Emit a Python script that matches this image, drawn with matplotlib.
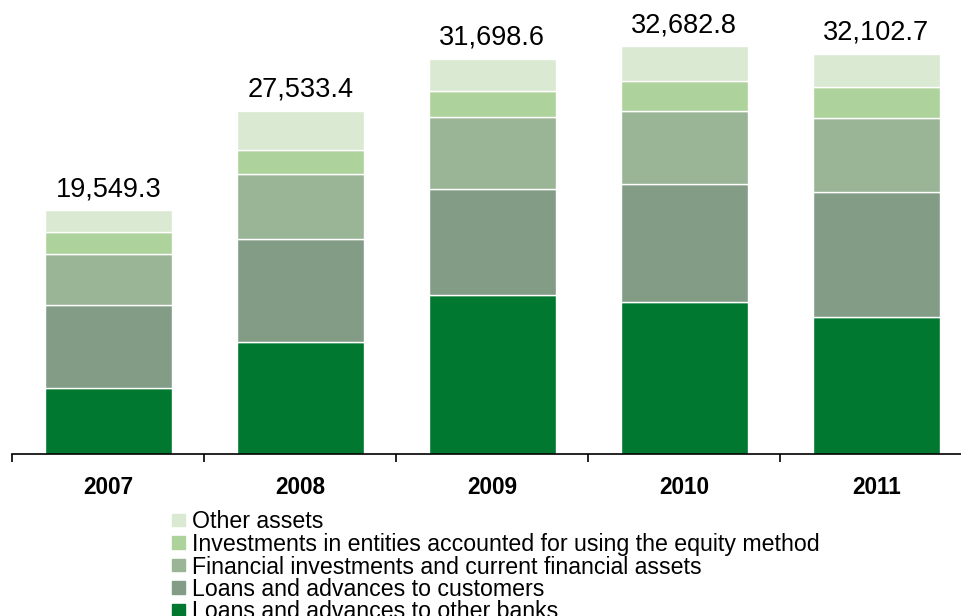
import numpy as np
import matplotlib.pyplot as plt
from matplotlib.patches import Rectangle

plt.rcParams['font.family'] = ['Liberation Sans', 'DejaVu Sans']

years = ['2007', '2008', '2009', '2010', '2011']

# asset components (EUR m), stacked bottom to top
banks = [5269.0, 8958.0, 12752.0, 12166.0, 10963.0]
customers = [6681.0, 8285.0, 8501.0, 9464.0, 10049.0]
financial = [4090.0, 5213.0, 5750.0, 5879.0, 5911.0]
equity = [1788.0, 1925.0, 2109.0, 2406.0, 2486.0]
other = [1721.3, 3152.4, 2586.6, 2767.8, 2693.7]

series = [banks, customers, financial, equity, other]
names = ['Loans and advances to other banks',
         'Loans and advances to customers',
         'Financial investments and current financial assets',
         'Investments in entities accounted for using the equity method',
         'Other assets']
colors = ['#00782f', '#829c86', '#9ab496', '#aed29b', '#dae9d1']

W, H = 962, 616
fig = plt.figure(figsize=(W / 100, H / 100), dpi=100)
ax = fig.add_axes([12.3 / W, (H - 454) / H, 960 / W, 454 / H])

x = np.arange(len(years))
bottom = np.zeros(len(years))
for vals, c in zip(series, colors):
    ax.bar(x, vals, width=0.66, bottom=bottom, color=c,
           edgecolor='white', linewidth=1.0)
    bottom += np.array(vals)

for xi, tot in zip(x, bottom):
    ax.annotate(f'{tot:,.1f}', (xi, tot), xytext=(0, 10),
                textcoords='offset points', ha='center', va='baseline',
                fontsize=19.5)

ax.set_xlim(-0.5, 4.5)
ax.set_ylim(0, 454 * 80.2)
for s in ['top', 'right', 'left']:
    ax.spines[s].set_visible(False)
ax.spines['bottom'].set_linewidth(1.2)
ax.set_yticks([])
ax.set_xticks(x)
ax.set_xticklabels(years, fontsize=16.3, fontweight='bold')
ax.tick_params(axis='x', which='major', length=0, pad=16)
ax.set_xticks(np.arange(-0.5, 5, 1.0), minor=True)
ax.tick_params(axis='x', which='minor', length=6, width=1.2, direction='out')

# legend, top entry first
rows = list(zip(names, colors))[::-1]
for i, (name, c) in enumerate(rows):
    yc = 519.5 + i * 22.5
    fig.patches.append(Rectangle((172 / W, (H - yc - 6.5) / H), 12.5 / W, 12.5 / H,
                                 transform=fig.transFigure, color=c))
    fig.text(192 / W, (H - yc) / H, name, fontsize=16.7, va='center_baseline',
             ha='left')

fig.savefig('out.png', dpi=100)
